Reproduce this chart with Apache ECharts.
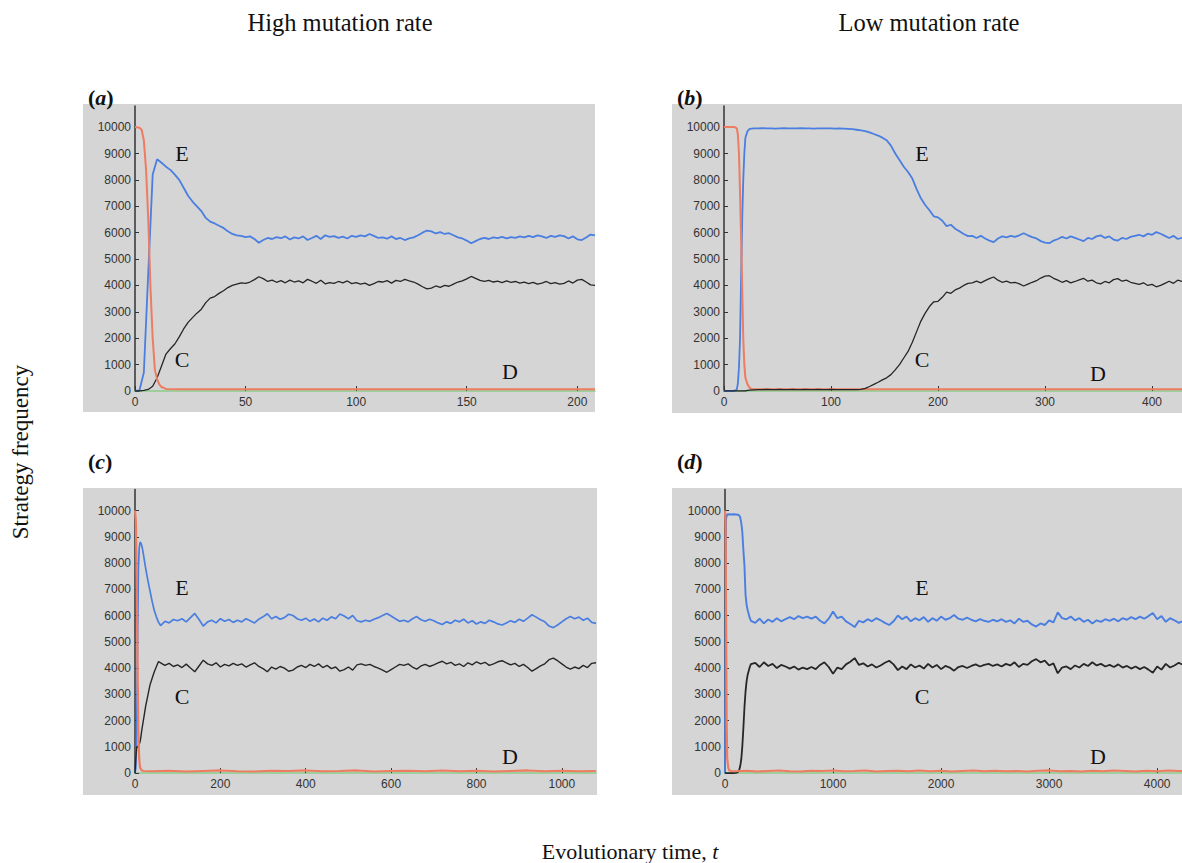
<!DOCTYPE html>
<html><head><meta charset="utf-8">
<script src="https://cdn.jsdelivr.net/npm/echarts@6/dist/echarts.min.js"></script>
<style>html,body{margin:0;padding:0;background:#fff}#main{width:1182px;height:863px}</style>
</head><body><div id="main"></div>
<script>
// ---------- Panel (a): high mutation rate, short run ----------
const aTime = [0,2,4,6,8,10,12,14,16,18,20,22,24,26,28,30,32,34,36,38,40,42,44,46,48,50,52,54,56,58,60,62,64,66,68,70,72,74,76,78,80,82,84,86,88,90,92,94,96,98,100,102,104,106,108,110,112,114,116,118,120,122,124,126,128,130,132,134,136,138,140,142,144,146,148,150,152,154,156,158,160,162,164,166,168,170,172,174,176,178,180,182,184,186,188,190,192,194,196,198,200,202,204,206,208];
const aE = [0,20,700,4500,8200,8780,8650,8500,8380,8200,8000,7700,7400,7180,7000,6820,6560,6420,6350,6260,6180,6050,5950,5900,5880,5830,5860,5760,5620,5720,5800,5760,5830,5790,5860,5740,5820,5780,5860,5720,5800,5880,5760,5900,5840,5870,5800,5850,5780,5880,5840,5900,5860,5950,5880,5800,5820,5770,5860,5760,5800,5720,5780,5820,5900,6000,6080,6050,5970,6020,5950,5980,5900,5820,5780,5700,5600,5680,5760,5800,5760,5820,5790,5840,5780,5830,5800,5860,5820,5880,5830,5900,5860,5800,5880,5840,5900,5870,5780,5860,5750,5720,5820,5930,5900];
const aC = [0,0,20,60,180,500,950,1400,1600,1780,2050,2350,2600,2780,2950,3100,3350,3520,3580,3700,3800,3920,4000,4050,4100,4080,4130,4220,4330,4260,4150,4200,4120,4180,4100,4200,4130,4170,4100,4230,4160,4080,4200,4060,4110,4080,4150,4100,4170,4070,4110,4050,4090,4000,4070,4150,4130,4180,4090,4190,4150,4230,4170,4130,4050,3950,3870,3900,3980,3930,4000,3970,4050,4130,4170,4250,4340,4270,4190,4150,4190,4130,4160,4110,4170,4120,4150,4090,4130,4070,4120,4050,4090,4150,4070,4110,4050,4080,4170,4090,4200,4230,4130,4020,4000];
const aDTime = [0,2,3,4,5,6,7,8,9,10,11,12,14,20,208];
const aD = [10000,9980,9900,9500,8400,6500,3900,2000,800,450,250,150,80,70,70];

// ---------- Panel (b): low mutation rate, short run ----------
const bTime = [0,4,8,10,12,13,14,15,16,17,18,19,20,22,24,28,32,36,40,44,48,52,56,60,64,68,72,76,80,84,88,92,96,100,104,108,112,116,120,124,128,132,136,140,144,148,152,156,160,164,168,172,176,180,184,188,192,196,200,204,208,212,216,220,224,228,232,236,240,244,248,252,256,260,264,268,272,276,280,284,288,292,296,300,304,308,312,316,320,324,328,332,336,340,344,348,352,356,360,364,368,372,376,380,384,388,392,396,400,404,408,412,416,420,424,428];
const bE = [0,0,0,10,60,300,900,2000,4300,6500,8000,9000,9600,9850,9930,
9950,9950,9960,9950,9950,9940,9950,9960,9950,9950,9950,9960,9950,9950,9940,9950,9950,9950,9950,9940,9950,
9940,9930,9920,9900,9880,9850,9800,9740,9680,9600,
9500,9300,9000,8750,8500,8300,8050,7650,7300,7050,
6850,6620,6580,6450,6250,6300,6150,6050,5950,5870,
5880,5800,5880,5780,5700,5640,5780,5860,5820,5880,
5840,5900,5980,5900,5830,5780,5680,5620,5600,5700,
5760,5840,5780,5860,5800,5740,5680,5800,5760,5860,
5900,5800,5860,5740,5700,5800,5760,5840,5880,5920,
5860,5960,5920,6020,5960,5880,5800,5880,5760,5800];
const bC = [0,0,0,0,0,0,0,0,0,0,0,0,0,20,30,
40,50,50,60,50,50,60,50,50,60,50,50,60,50,50,60,50,50,60,50,50,
50,50,50,55,60,100,170,250,330,420,
500,620,800,1000,1250,1500,1850,2250,2650,2950,
3200,3380,3400,3550,3750,3700,3830,3900,4000,4080,
4100,4160,4100,4180,4260,4320,4200,4120,4160,4100,
4120,4060,3980,4050,4120,4180,4280,4350,4370,4270,
4200,4120,4180,4100,4150,4210,4270,4160,4200,4100,
4060,4150,4100,4220,4260,4160,4200,4120,4080,4040,
4100,4000,4040,3950,4000,4080,4160,4080,4200,4150];
const bDTime = [0,10,12,13,14,15,16,17,18,19,20,22,24,26,428];
const bD = [10000,10000,9950,9700,9000,7500,5800,3900,2000,1000,500,250,120,70,70];

// ---------- Panel (c): high mutation rate, long run ----------
const cTime = [0,2,4,6,8,10,12,14,16,18,20,25,30,35,40,45,50,55,60,
70,80,90,100,110,120,130,140,150,160,170,180,190,200,210,220,230,240,250,260,270,280,290,300,310,320,330,340,350,360,370,380,390,400,410,420,430,440,450,460,470,480,490,500,510,520,530,540,550,560,570,580,590,600,610,620,630,640,650,660,670,680,690,700,710,720,730,740,750,760,770,780,790,800,810,820,830,840,850,860,870,880,890,900,910,920,930,940,950,960,970,980,990,1000,1010,1020,1030,1040,1050,1060,1070,1080];
const cE = [0,200,1500,5000,7800,8600,8800,8750,8650,8500,8300,7800,7350,6950,6550,6200,5950,5750,5620,
5780,5720,5850,5800,5880,5760,5920,6080,5850,5600,
5760,5820,5720,5880,5780,5850,5740,5820,5760,5880,
5800,5720,5860,5950,6070,5880,5960,5860,5920,6050,
6000,5880,5820,5900,5780,5870,5760,5900,5820,5950,
5880,6060,5980,5880,6000,5800,5760,5820,5780,5860,
5920,6000,6080,5980,5880,5780,5820,5760,5880,5960,
5840,5780,5860,5800,5720,5660,5760,5700,5820,5760,
5860,5720,5800,5680,5760,5700,5820,5760,5680,5640,
5720,5800,5740,5860,5780,5900,6030,5940,5840,5760,
5600,5540,5640,5760,5880,5960,5880,5940,5820,5900,
5740,5700];
const cC = [0,600,1000,1000,1050,1100,1200,1400,1650,1850,2050,2550,2950,3350,3600,3850,4050,4250,4200,
4100,4180,4060,4120,4020,4150,4000,3860,4080,4300,
4160,4100,4200,4040,4140,4080,4180,4100,4160,4040,
4120,4200,4060,3980,3860,4040,3960,4060,4000,3880,
3920,4040,4100,4020,4140,4060,4160,4020,4100,3980,
4040,3880,3940,4040,3920,4120,4160,4100,4140,4060,
4000,3920,3840,3940,4040,4140,4100,4160,4040,3960,
4080,4140,4060,4120,4200,4260,4160,4220,4100,4160,
4060,4200,4120,4240,4160,4220,4100,4160,4240,4280,
4200,4120,4180,4060,4140,4020,3880,3980,4080,4160,
4320,4380,4280,4160,4040,3960,4040,3980,4100,4020,
4180,4200];
const cDTime = [0,2,4,6,8,10,12,16,20,40,80,120,160,200,240,280,320,360,400,440,480,520,560,600,640,680,720,760,800,840,880,920,960,1000,1040,1080];
const cD = [10000,9600,7500,4000,1500,500,200,100,80,70,90,60,80,100,70,60,90,80,100,70,80,100,60,80,90,70,100,70,90,60,80,100,70,90,70,80];

// ---------- Panel (d): low mutation rate, long run ----------
const dTime = [0,10,20,40,60,80,100,120,130,140,150,160,170,180,190,200,210,220,230,240,
280,320,360,400,440,480,520,560,600,640,680,720,760,800,840,880,920,960,1000,1040,1080,1120,1160,1200,1240,1280,1320,1360,1400,1440,1480,1520,1560,1600,1640,1680,1720,1760,1800,1840,1880,1920,1960,2000,2040,2080,2120,2160,2200,2240,2280,2320,2360,2400,2440,2480,2520,2560,2600,2640,2680,2720,2760,2800,2840,2880,2920,2960,3000,3040,3080,3120,3160,3200,3240,3280,3320,3360,3400,3440,3480,3520,3560,3600,3640,3680,3720,3760,3800,3840,3880,3920,3960,4000,4040,4080,4120,4160,4200,4230];
const dE = [0,9700,9850,9860,9850,9860,9850,9840,9820,9750,9550,9200,8500,7900,6800,6400,6200,6050,5900,5800,
5720,5880,5700,5850,5760,5900,5780,5860,5940,
5860,5980,5900,5960,5880,5960,5800,5700,5880,6150,
5900,5960,5780,5680,5560,5800,5740,5860,5780,5900,
5820,5720,5640,5780,6000,5860,5960,5780,5900,5820,
5940,5760,5900,5800,5960,5840,5900,6020,5880,5840,
5920,5840,5780,5860,5800,5760,5840,5780,5860,5760,
5820,5700,5880,5760,5800,5660,5580,5700,5640,5820,
5740,6120,5900,5860,5960,5820,5900,5760,5840,5700,
5820,5760,5860,5800,5880,5780,5900,5840,5940,5860,
5960,5880,5980,6100,5860,5980,5760,5900,5820,5720,
5780];
const dC = [0,0,0,0,0,0,10,40,100,250,500,1000,1700,2500,3100,3500,3750,3900,4050,4150,
4200,4040,4220,4080,4160,4000,4120,4060,3980,
4060,3940,4020,3960,4040,3960,4120,4220,4040,3780,
4020,3960,4140,4240,4380,4120,4180,4060,4140,4020,
4100,4200,4280,4140,3920,4060,3960,4140,4020,4100,
3980,4160,4020,4120,3960,4080,4020,3900,4040,4080,
4000,4080,4140,4060,4120,4160,4080,4140,4060,4160,
4100,4220,4040,4160,4120,4260,4340,4220,4280,4100,
4180,3800,4020,4060,3960,4100,4020,4160,4080,4220,
4100,4160,4060,4120,4040,4140,4020,4080,3980,4060,
3960,4040,3940,3820,4060,3940,4160,4020,4100,4200,
4140];
const dDTime = [0,5,10,15,20,30,40,60,100,200,300,400,500,600,700,800,900,1000,1100,1200,1300,1400,1500,1600,1700,1800,1900,2000,2100,2200,2300,2400,2500,2600,2700,2800,2900,3000,3100,3200,3300,3400,3500,3600,3700,3800,3900,4000,4100,4200,4230];
const dD = [10000,9500,6000,2000,600,200,100,80,70,90,60,80,100,70,60,90,80,100,70,80,100,60,80,90,70,100,70,90,60,80,100,70,90,70,80,60,90,100,70,80,60,90,70,100,80,60,90,70,100,80,80];

// Tick labels
const yTicks = [0,1000,2000,3000,4000,5000,6000,7000,8000,9000,10000];

// ---------- Chart ----------
const chart = echarts.init(document.getElementById('main'), null, {renderer: 'svg', width: 1182, height: 863});
const pair = (t, v) => t.map((x, i) => [x, v[i]]);

const COL_E = '#4a7ee0', COL_C = '#262626', COL_D = '#ee7c60', COL_X = '#8ccc8c';
const SANS = 'Liberation Sans, Arial, sans-serif';
const SERIF = 'Liberation Serif, Times New Roman, serif';

const grids = [
  {left: 135, top: 106, width: 460, height: 285},
  {left: 724, top: 106, width: 458, height: 285},
  {left: 135, top: 489.5, width: 461, height: 283.6},
  {left: 725, top: 489.5, width: 457, height: 283.6}
];
const xMax = [208, 428, 1080, 4230];
const xInt = [50, 100, 200, 1000];

const xAxes = grids.map((g, i) => ({
  type: 'value', gridIndex: i, min: 0, max: xMax[i], interval: xInt[i],
  axisLine: {show: true, onZero: false, lineStyle: {color: COL_X, width: 1.5}},
  axisTick: {show: true, inside: true, length: 5, lineStyle: {color: '#333', width: 1}},
  axisLabel: {show: true, showMaxLabel: false, margin: 5, fontSize: 12, color: '#333', fontFamily: SANS,
    formatter: v => (v % xInt[i] === 0) ? String(v) : ''},
  splitLine: {show: false}
}));
const yAxes = grids.map((g, i) => ({
  type: 'value', gridIndex: i, min: 0, max: 10800, interval: 1000,
  axisLine: {show: true, onZero: false, lineStyle: {color: '#333', width: 1.5}},
  axisTick: {show: true, inside: true, length: 4, lineStyle: {color: '#333', width: 1}},
  axisLabel: {show: true, showMaxLabel: false, margin: 4, fontSize: 12, color: '#333', fontFamily: SANS,
    padding: [0, 0, 8, 0],
    formatter: v => yTicks.indexOf(v) >= 0 ? String(v) : ''},
  splitLine: {show: false}
}));

function line(idx, data, color, width, z) {
  return {type: 'line', xAxisIndex: idx, yAxisIndex: idx, data: data, showSymbol: false, symbol: 'none',
    silent: true, animation: false, z: z, lineStyle: {color: color, width: width}, emphasis: {disabled: true}};
}
const series = [
  line(0, pair(aTime, aE), COL_E, 1.8, 3), line(0, pair(aTime, aC), COL_C, 1.3, 4), line(0, pair(aDTime, aD), COL_D, 2, 5),
  line(1, pair(bTime, bE), COL_E, 1.8, 3), line(1, pair(bDTime, bD), COL_D, 2, 4), line(1, pair(bTime, bC), COL_C, 1.3, 5),
  line(2, pair(cTime, cE), COL_E, 1.7, 3), line(2, pair(cTime, cC), COL_C, 1.4, 4), line(2, pair(cDTime, cD), COL_D, 2.2, 5),
  line(3, pair(dTime, dE), COL_E, 1.9, 3), line(3, pair(dTime, dC), COL_C, 1.8, 4), line(3, pair(dDTime, dD), COL_D, 2.2, 5)
];

function rect(x, y, w, h) {
  return {type: 'rect', silent: true, z: -10, shape: {x: x, y: y, width: w, height: h}, style: {fill: '#d5d5d5'}};
}
function txt(s, x, y, size, opts) {
  return Object.assign({type: 'text', silent: true, z: 10, x: x, y: y,
    style: {text: s, x: 0, y: 0, fill: '#111', font: size + 'px ' + SERIF, textAlign: 'center', textVerticalAlign: 'middle'}}, opts || {});
}
function panelLabel(letter, x, y) {
  return {type: 'text', silent: true, z: 10, x: x, y: y,
    style: {text: '{b|(}{bi|' + letter + '}{b|)}', x: 0, y: 0, textAlign: 'left', textVerticalAlign: 'middle',
      rich: {b: {fontFamily: SERIF, fontWeight: 'bold', fontSize: 22, fill: '#111'},
             bi: {fontFamily: SERIF, fontWeight: 'bold', fontStyle: 'italic', fontSize: 22, fill: '#111'}}}};
}

const graphics = [
  rect(83, 104, 512, 308), rect(672, 104, 510, 309), rect(83, 488, 514, 307), rect(672, 488, 510, 307),
  txt('High mutation rate', 340, 22, 24.5), txt('Low mutation rate', 929, 22, 24.5),
  panelLabel('a', 88, 97), panelLabel('b', 677, 97), panelLabel('c', 88, 461), panelLabel('d', 677, 461),
  txt('E', 182, 153, 22), txt('C', 182, 359, 22), txt('D', 510, 371, 22),
  txt('E', 922, 153, 22), txt('C', 922, 359, 22), txt('D', 1098, 373, 22),
  txt('E', 182, 587, 22), txt('C', 182, 696, 22), txt('D', 510, 756, 22),
  txt('E', 922, 587, 22), txt('C', 922, 696, 22), txt('D', 1098, 756, 22),
  txt('Strategy frequency', 20, 452, 23, {rotation: Math.PI / 2}),
  {type: 'text', silent: true, z: 10, x: 630, y: 851,
    style: {text: '{r|Evolutionary time, }{i|t}', x: 0, y: 0, textAlign: 'center', textVerticalAlign: 'middle',
      rich: {r: {fontFamily: SERIF, fontSize: 22, fill: '#111'}, i: {fontFamily: SERIF, fontStyle: 'italic', fontSize: 22, fill: '#111'}}}}
];

chart.setOption({
  backgroundColor: '#ffffff',
  animation: false,
  grid: grids,
  xAxis: xAxes,
  yAxis: yAxes,
  series: series,
  graphic: {elements: graphics}
});
</script></body></html>
